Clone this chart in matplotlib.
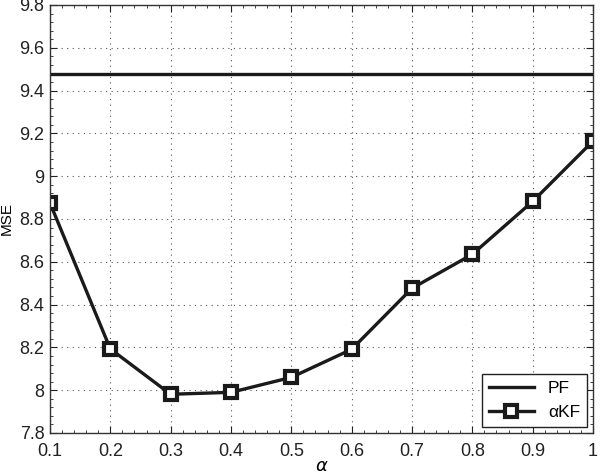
import numpy as np
import matplotlib
matplotlib.use('Agg')
import matplotlib.pyplot as plt
from matplotlib.ticker import AutoMinorLocator

plt.rcParams['font.family'] = ['Liberation Sans', 'DejaVu Sans']

alpha = [0.1, 0.2, 0.3, 0.4, 0.5, 0.6, 0.7, 0.8, 0.9, 1.0]
alpha_labels = ['0.1', '0.2', '0.3', '0.4', '0.5', '0.6', '0.7', '0.8', '0.9', '1']
mse_akf = [8.875, 8.193, 7.981, 7.99, 8.06, 8.191, 8.476, 8.635, 8.882, 9.164]
mse_pf = 9.477
y_ticks = [7.8, 8.0, 8.2, 8.4, 8.6, 8.8, 9.0, 9.2, 9.4, 9.6, 9.8]
y_labels = ['7.8', '8', '8.2', '8.4', '8.6', '8.8', '9', '9.2', '9.4', '9.6', '9.8']

fig = plt.figure(figsize=(6.02, 4.74), dpi=100)
ax = fig.add_axes([0.083, 0.0865, 0.902, 0.903])

ax.plot(alpha, [mse_pf]*len(alpha), color='#1a1a1a', lw=2.4, label='PF')
ax.plot(alpha, mse_akf, color='#1a1a1a', lw=2.4, marker='s', ms=8,
        mfc='white', mec='#1a1a1a', mew=3, label='αKF')

ax.set_xlim(0.1, 1.0)
ax.set_ylim(7.8, 9.8)
ax.set_xticks(alpha)
ax.set_xticklabels(alpha_labels)
ax.set_yticks(y_ticks)
ax.set_yticklabels(y_labels)
ax.xaxis.set_minor_locator(AutoMinorLocator(5))
ax.yaxis.set_minor_locator(AutoMinorLocator(5))
ax.tick_params(which='both', direction='in', top=True, right=True, labelsize=13, colors='#222222')
ax.tick_params(which='major', length=5)
ax.tick_params(which='minor', length=2.5)
ax.tick_params(axis='x', pad=7)
ax.tick_params(axis='y', pad=4)
ax.grid(True, which='major', linestyle=(0, (1, 4)), color='#555555', lw=0.8)
for s in ax.spines.values():
    s.set_color('#333333')
    s.set_linewidth(1.0)

ax.set_xlabel(r'$\alpha$', fontsize=13, labelpad=-1)
ax.set_ylabel('MSE', fontsize=11, labelpad=4)

leg = ax.legend(loc='lower right', fontsize=12.5, fancybox=False, framealpha=1,
                edgecolor='#222222', handlelength=2.6, borderaxespad=0.35)
leg.get_frame().set_linewidth(1.0)

fig.savefig('out.png', dpi=100)
